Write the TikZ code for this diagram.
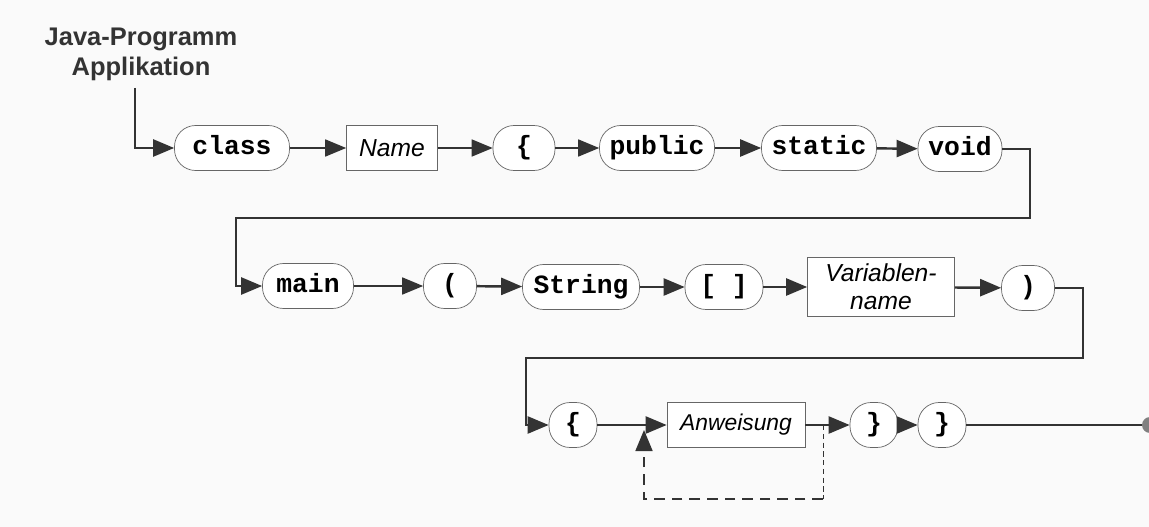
\documentclass[tikz,border=0pt]{standalone}
\usepackage{fontspec}
\setmainfont{Liberation Sans}
\setmonofont{Liberation Mono}
\usetikzlibrary{arrows.meta}
\definecolor{linegray}{HTML}{333333}
\definecolor{boxgray}{HTML}{666666}
\definecolor{paper}{HTML}{FAFAFA}
\tikzset{
  term/.style={draw=boxgray,rectangle,rounded corners=12pt,minimum height=0.9cm,
    inner sep=0pt,text height=1.5ex,text depth=0.1ex,
    font=\fontsize{15}{17}\selectfont\ttfamily\bfseries,fill=white},
  nonterm/.style={draw=boxgray,rectangle,minimum height=0.9cm,inner sep=0pt,
    font=\fontsize{14}{16}\selectfont\itshape,fill=white,align=center},
  arr/.style={draw=linegray,line width=1.4pt,-{Triangle[length=0.42cm,width=0.34cm]}},
  thinarr/.style={arr,line width=1pt}
}
\begin{document}
\begin{tikzpicture}[x=0.02cm,y=-0.02cm]
	\fill[paper] (0,0) rectangle (1149,527);
	\useasboundingbox (0,0) rectangle (1149,527);
	% title
	\node[font=\fontsize{14.5}{17}\selectfont\bfseries,text=linegray,align=center] (title) at (141,54) {Java-Programm\\Applikation};
	\coordinate (start) at (135,88);
	% row 1
	\node[term,minimum width=2.3cm] (class) at (232,148) {class};
	\node[nonterm,minimum width=1.82cm] (name) at (392,148) {Name};
	\node[term,minimum width=1.24cm] (lbrace) at (524,148) {\{};
	\node[term,minimum width=2.3cm] (public) at (657,148) {public};
	\node[term,minimum width=2.3cm] (static) at (819,148) {static};
	\node[term,minimum width=1.68cm] (void) at (960,149) {void};
	% row 2
	\node[term,minimum width=1.82cm] (main) at (308,286) {main};
	\node[term,minimum width=1.06cm] (lpar) at (450,286) {(};
	\node[term,minimum width=2.34cm] (string) at (581,287) {String};
	\node[term,minimum width=1.56cm] (brackets) at (724,287) {[ ]};
	\node[nonterm,minimum width=2.94cm,minimum height=1.18cm] (varname) at (881,287) {Variablen-\\name};
	\node[term,minimum width=1.06cm] (rpar) at (1028,288) {)};
	% row 3
	\node[term,minimum width=0.96cm] (lbody) at (573,425) {\{};
	\node[nonterm,minimum width=2.76cm,font=\fontsize{13}{15}\selectfont\itshape] (stmt) at (736,425) {Anweisung};
	\node[term,minimum width=0.96cm] (rbody) at (874,425) {\}};
	\node[term,minimum width=0.96cm] (rclass) at (942,425) {\}};
	\coordinate (end) at (1150,425);
	% turns
	\coordinate (turnA) at (1030,218);
	\coordinate (turnB) at (236,218);
	\coordinate (turnC) at (1083,358);
	\coordinate (turnD) at (526,358);
	\coordinate (split) at (823,425);
	\coordinate (loopA) at (823,499);
	\coordinate (loopB) at (644,499);
	\coordinate (join) at (644,430);
	% connectors
	\draw[arr] (start) |- (class);
	\draw[thinarr] (class) -- (name);
	\draw[thinarr] (name) -- (lbrace);
	\draw[thinarr] (lbrace) -- (public);
	\draw[arr] (public) -- (static);
	\draw[arr] (static) -- (void);
	\draw[arr] (void.east) -| (turnA) -- (turnB) |- (main.west);
	\draw[thinarr] (main) -- (lpar);
	\draw[arr] (lpar) -- (string);
	\draw[arr] (string) -- (brackets);
	\draw[arr] (brackets) -- (varname);
	\draw[arr] (varname) -- (rpar);
	\draw[arr] (rpar.east) -| (turnC) -- (turnD) |- (lbody.west);
	\draw[arr] (lbody) -- (stmt);
	\draw[arr] (stmt) -- (rbody);
	\draw[arr] (rbody) -- (rclass);
	\draw[draw=linegray,line width=1.4pt] (rclass) -- (end);
	\fill[gray] (end) circle (8);
	\draw[draw=linegray,line width=0.5pt,dash pattern=on 3pt off 2pt] (split) -- (loopA);
	\draw[arr,line width=1pt,dash pattern=on 6pt off 4pt] (loopA) -- (loopB) -- (join);
\end{tikzpicture}
\end{document}
